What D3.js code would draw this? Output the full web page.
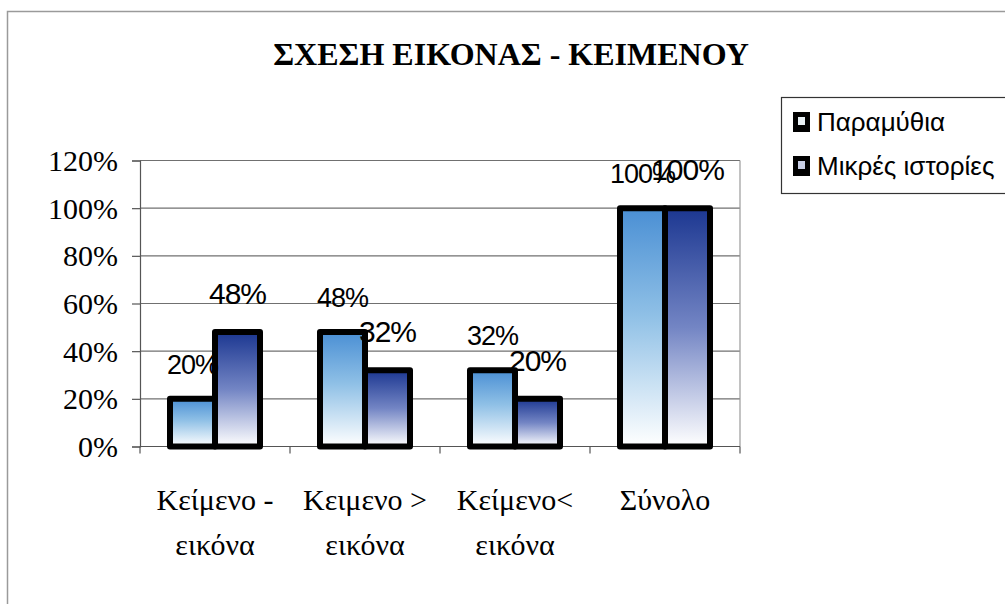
<!DOCTYPE HTML>
<html>

	<head>
		<title>ΣΧΕΣΗ ΕΙΚΟΝΑΣ - ΚΕΙΜΕΝΟΥ</title>
		<meta charset="UTF8">
		<script src="https://d3js.org/d3.v7.min.js"></script>
		<style>
			body
			{
				margin: 0;
				padding: 0;
				background-color: white;
			}
			svg
			{
				display: block;
			}
		</style>
	</head>

	<body>
		<svg></svg>
	</body>

	<script>

		const categories = [["Κείμενο -", "εικόνα"], ["Κειμενο >", "εικόνα"], ["Κείμενο<", "εικόνα"], ["Σύνολο"]];
		const seriesNames = ["Παραμύθια", "Μικρές ιστορίες"];
		const paramythia = [0.20, 0.48, 0.32, 1.00];
		const mikres = [0.48, 0.32, 0.20, 1.00];
		const yTicks = [0, 0.2, 0.4, 0.6, 0.8, 1.0, 1.2];

		const w = 1005;
		const h = 604;
		const plot = {left: 140, right: 740, top: 160.5, bottom: 446.5};
		const serif = "'Liberation Serif', 'Times New Roman', Times, serif";
		const sans = "'Liberation Sans', Arial, Helvetica, sans-serif";

		const svg = d3.select("svg")
		.attr("width", w)
		.attr("height", h);

		// gradients for the bars, top dark -> white at the bottom
		const defs = svg.append("defs");
		const gradStops = [
			[["0%", "#4a8fd4"], ["45%", "#8fc0e6"], ["100%", "#ffffff"]],
			[["0%", "#1c3791"], ["50%", "#7385c4"], ["100%", "#ffffff"]]
		];
		gradStops.forEach((stops, i) => {
			defs.append("linearGradient")
			.attr("id", "grad" + i)
			.attr("x1", 0).attr("y1", 0)
			.attr("x2", 0).attr("y2", 1)
			.selectAll("stop")
			.data(stops)
			.enter()
			.append("stop")
			.attr("offset", d => d[0])
			.attr("stop-color", d => d[1]);
		});

		// outer chart border
		svg.append("rect")
		.attr("x", 7.5)
		.attr("y", 11.5)
		.attr("width", w + 10)
		.attr("height", h + 10)
		.attr("fill", "none")
		.attr("stroke", "#9a9a9a")
		.attr("stroke-width", 1.5);

		svg.append("text")
		.attr("x", 511)
		.attr("y", 65)
		.attr("text-anchor", "middle")
		.style("font-family", serif)
		.style("font-size", "32px")
		.style("font-weight", "bold")
		.text("ΣΧΕΣΗ ΕΙΚΟΝΑΣ - ΚΕΙΜΕΝΟΥ");

		const x0 = d3.scaleBand()
		.domain(d3.range(categories.length))
		.range([plot.left, plot.right])
		.paddingInner(0.4)
		.paddingOuter(0.2);

		const x1 = d3.scaleBand()
		.domain(d3.range(seriesNames.length))
		.range([0, x0.bandwidth()]);

		const y = d3.scaleLinear()
		.domain([0, 1.2])
		.range([plot.bottom, plot.top]);

		// gridlines
		svg.append("g")
		.selectAll("line")
		.data(yTicks)
		.enter()
		.append("line")
		.attr("x1", plot.left)
		.attr("x2", plot.right)
		.attr("y1", d => y(d))
		.attr("y2", d => y(d))
		.attr("stroke", "#707070")
		.attr("stroke-width", 1.2);

		svg.append("line")
		.attr("x1", plot.right)
		.attr("x2", plot.right)
		.attr("y1", plot.top)
		.attr("y2", plot.bottom)
		.attr("stroke", "#9a9a9a")
		.attr("stroke-width", 1.2);

		// y axis
		const yAxis = svg.append("g")
		.attr("transform", "translate(" + plot.left + ",0)")
		.call(d3.axisLeft(y).tickValues(yTicks).tickFormat(d3.format(".0%")).tickSize(8).tickPadding(14));
		yAxis.attr("font-family", null);
		yAxis.selectAll("path, line").attr("stroke", "#555").attr("stroke-width", 1.2);
		yAxis.selectAll("text")
		.attr("fill", "black")
		.style("font-family", serif)
		.style("font-size", "30px")
		.attr("dy", "0.33em");

		// x axis
		const xAxis = svg.append("g")
		.attr("transform", "translate(0," + plot.bottom + ")");
		xAxis.append("line")
		.attr("x1", plot.left)
		.attr("x2", plot.right)
		.attr("stroke", "#555")
		.attr("stroke-width", 1.2);
		xAxis.selectAll("line.tick")
		.data(d3.range(categories.length + 1))
		.enter()
		.append("line")
		.attr("class", "tick")
		.attr("x1", d => plot.left + d * x0.step())
		.attr("x2", d => plot.left + d * x0.step())
		.attr("y1", 0)
		.attr("y2", 7)
		.attr("stroke", "#555")
		.attr("stroke-width", 1.2);

		xAxis.selectAll("text")
		.data(categories)
		.enter()
		.append("text")
		.attr("text-anchor", "middle")
		.style("font-family", serif)
		.style("font-size", "30px")
		.attr("transform", (d, i) => "translate(" + (x0(i) + x0.bandwidth() / 2) + ",63)")
		.selectAll("tspan")
		.data(d => d)
		.enter()
		.append("tspan")
		.attr("x", 0)
		.attr("y", (d, i) => i * 45)
		.text(d => d);

		// bars
		const rows = categories.map((c, i) => [paramythia[i], mikres[i]]);

		const groups = svg.append("g")
		.selectAll("g")
		.data(rows)
		.enter()
		.append("g")
		.attr("transform", (d, i) => "translate(" + x0(i) + ",0)");

		groups.selectAll("rect")
		.data(d => d)
		.enter()
		.append("rect")
		.attr("x", (d, i) => x1(i))
		.attr("y", d => y(d))
		.attr("width", x1.bandwidth())
		.attr("height", d => y(0) - y(d))
		.attr("fill", (d, i) => "url(#grad" + i + ")")
		.attr("stroke", "black")
		.attr("stroke-width", 6)
		.attr("stroke-linejoin", "round");

		// data labels
		groups.selectAll("text")
		.data(d => d)
		.enter()
		.append("text")
		.attr("text-anchor", "middle")
		.attr("x", (d, i) => x1(i) + x1.bandwidth() / 2)
		.attr("y", (d, i) => y(d) - (i === 0 ? 25 : 28))
		.style("font-family", sans)
		.style("font-size", (d, i) => i === 0 ? "27px" : "30px")
		.style("letter-spacing", "-1px")
		.text(d => d3.format(".0%")(d));

		// legend
		const legend = svg.append("g")
		.attr("transform", "translate(781,97)");

		legend.append("rect")
		.attr("x", 0.5)
		.attr("y", 0.5)
		.attr("width", 240)
		.attr("height", 96)
		.attr("fill", "white")
		.attr("stroke", "#333")
		.attr("stroke-width", 1.2);

		const items = legend.selectAll("g.item")
		.data(seriesNames)
		.enter()
		.append("g")
		.attr("class", "item")
		.attr("transform", (d, i) => "translate(12," + (15 + i * 44) + ")");

		items.append("rect")
		.attr("width", 17)
		.attr("height", 20)
		.attr("fill", "black");

		items.append("rect")
		.attr("x", 5)
		.attr("y", 5)
		.attr("width", 7)
		.attr("height", 8)
		.attr("fill", (d, i) => i === 0 ? "#e8f0f4" : "#c9cfe6");

		items.append("text")
		.attr("x", 24)
		.attr("y", 19)
		.style("font-family", sans)
		.style("font-size", "26px")
		.text(d => d);

	</script>

</html>
